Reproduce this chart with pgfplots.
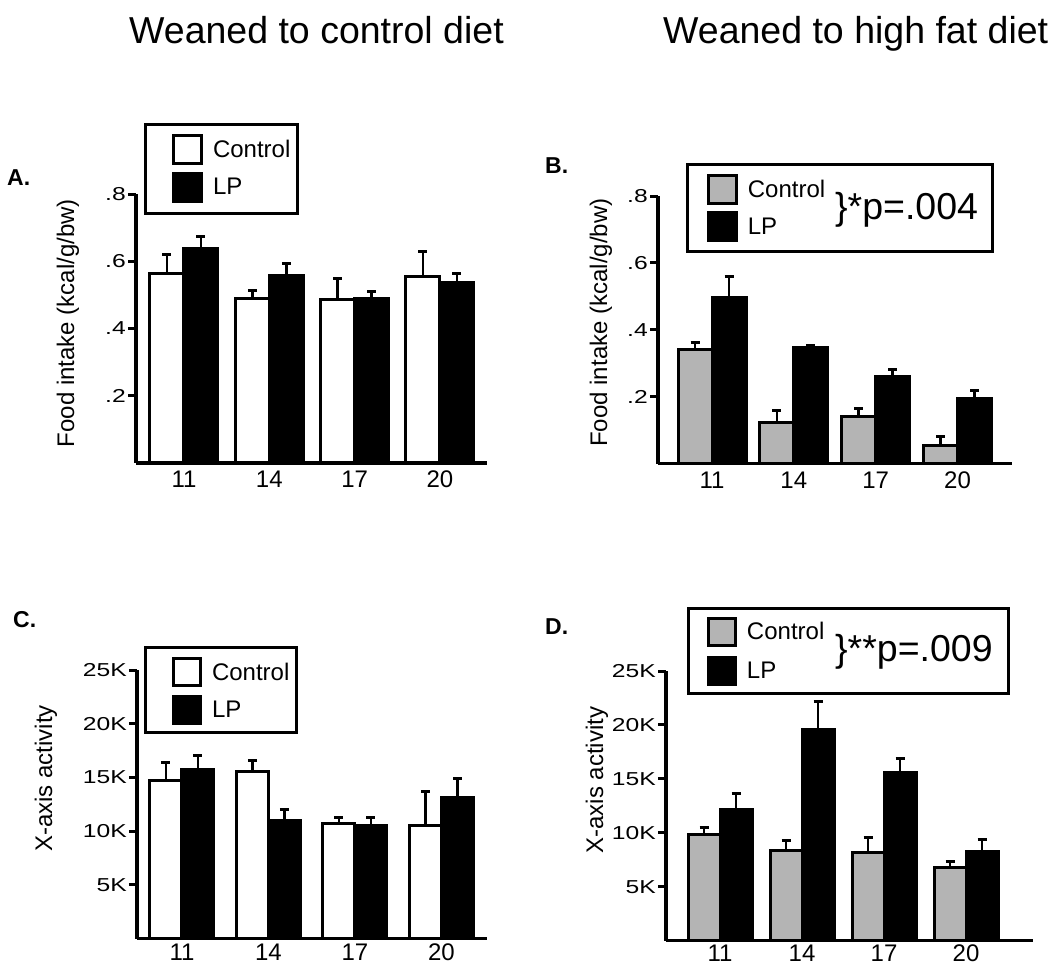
\documentclass[border=0pt]{standalone}
\usepackage{pgfplots}
\pgfplotsset{compat=1.18}
\usepackage{fontspec}
\setmainfont{Liberation Sans}
\newcommand\fs[1]{\fontsize{#1}{#1}\selectfont}
\definecolor{ctrlgray}{RGB}{180,180,180}

\pgfplotsset{
  panel/.style={
    scale only axis,
    axis lines*=left,
    axis line style={line width=3.5pt},
    enlarge x limits=false,
    ymin=0,
    xtick={0,1,2,3}, xticklabels={11,14,17,20},
    xtick style={draw=none},
    ytick style={line width=3pt, black},
    tick align=outside,
    major tick length=8pt,
    xticklabel style={font=\fs{24}, inner sep=0pt},
    yticklabel style={font=\fs{22}, inner sep=0pt, xshift=-2pt, xscale=1.12, yscale=0.85},
    ylabel style={font=\fs{24}, anchor=center},
    scaled y ticks=false,
    ybar=0pt,
    clip=false,
    legend cell align=left,
    legend style={draw=none, fill=none, inner sep=0pt, outer sep=0pt,
      font=\fs{24}, nodes={inner sep=0pt}, anchor=north west,
      /tikz/every odd column/.append style={column sep=10pt}},
    error bars/y dir=plus, error bars/y explicit,
    error bars/error bar style={line width=2.5pt, black},
    error bars/error mark options={rotate=90, line width=3pt, mark size=4.5pt, black},
  },
  ctrlW/.style={draw=black, fill=white, line width=3pt,
    legend image code/.code={\draw[fill=white, line width=3pt] (0pt,-14pt) rectangle (28pt,14pt);}},
  ctrlG/.style={draw=black, fill=ctrlgray, line width=3pt,
    legend image code/.code={\draw[fill=ctrlgray, line width=3pt] (0pt,-14pt) rectangle (28pt,14pt);}},
  lpB/.style={draw=black, fill=black, line width=3pt,
    legend image code/.code={\draw[fill=black, line width=3pt] (0pt,-14pt) rectangle (28pt,14pt);}},
}

\begin{document}
\begin{tikzpicture}
\useasboundingbox (0pt,0pt) rectangle (1050pt,-965pt);

\node[anchor=base west, font=\fs{37.5}, inner sep=0pt] at (129pt,-44pt) {Weaned to control diet};
\node[anchor=base west, font=\fs{37.5}, inner sep=0pt] at (663pt,-44pt) {Weaned to high fat diet};

\node[anchor=base west, font=\bfseries\fs{23}, inner sep=0pt] at (7pt,-186pt) {A.};
\node[anchor=base west, font=\bfseries\fs{23}, inner sep=0pt] at (545pt,-174pt) {B.};
\node[anchor=base west, font=\bfseries\fs{23}, inner sep=0pt] at (13pt,-627pt) {C.};
\node[anchor=base west, font=\bfseries\fs{23}, inner sep=0pt] at (545pt,-634pt) {D.};

% Panel A
\begin{axis}[panel,
  at={(136pt,-463pt)}, anchor=south west,
  width=351pt, height=269pt,
  xmin=-0.5625, xmax=3.551, ymax=0.8,
  ytick={0.2,0.4,0.6,0.8}, yticklabels={.2,.4,.6,.8},
  bar width=34pt,
  ylabel={Food intake (kcal/g/bw)},
  ylabel style={at={(axis description cs:-0.194,0.52)}},
  legend style={at={(axis description cs:0.1026,1.223)}, row sep=6.5pt},
]
\addplot[ctrlW] table[x=x, y=y, y error=e] {
x y e
0 0.565 0.055
1 0.488 0.024
2 0.486 0.064
3 0.555 0.075
};
\addplot[lpB] table[x=x, y=y, y error=e] {
x y e
0 0.639 0.035
1 0.557 0.035
2 0.489 0.022
3 0.537 0.028
};
\legend{Control, LP}
\draw[line width=3pt] (axis description cs:0.026,1.257) rectangle (axis description cs:0.459,0.929);
\end{axis}

% Panel B
\begin{axis}[panel,
  at={(658pt,-463.7pt)}, anchor=south west,
  width=354pt, height=267.7pt,
  xmin=-0.66, xmax=3.666, ymax=0.8,
  ytick={0.2,0.4,0.6,0.8}, yticklabels={.2,.4,.6,.8},
  bar width=34pt,
  ylabel={Food intake (kcal/g/bw)},
  ylabel style={at={(axis description cs:-0.161,0.527)}},
  legend style={at={(axis description cs:0.138,1.0814)}, row sep=6pt},
]
\addplot[ctrlG] table[x=x, y=y, y error=e] {
x y e
0 0.342 0.019
1 0.123 0.037
2 0.140 0.025
3 0.055 0.026
};
\addplot[lpB] table[x=x, y=y, y error=e] {
x y e
0 0.497 0.061
1 0.348 0.006
2 0.261 0.021
3 0.194 0.026
};
\legend{Control, LP}
\draw[line width=3pt] (axis description cs:0.0847,1.1195) rectangle (axis description cs:0.946,0.791);
\node[anchor=west, font=\fs{37.5}, inner sep=0pt] at (axis description cs:0.5,0.948) {\}*p=.004};
\end{axis}

% Panel C
\begin{axis}[panel,
  at={(137pt,-938.7pt)}, anchor=south west,
  width=350pt, height=268.7pt,
  xmin=-0.52, xmax=3.526, ymax=25000,
  ytick={5000,10000,15000,20000,25000}, yticklabels={5K,10K,15K,20K,25K},
  bar width=32pt,
  xticklabel style={yshift=3pt},
  ylabel={X-axis activity},
  ylabel style={at={(axis description cs:-0.26,0.596)}},
  legend style={at={(axis description cs:0.1,1.048)}, row sep=8pt},
]
\addplot[ctrlW, legend image code/.code={\draw[fill=white, line width=3pt] (0pt,-13.5pt) rectangle (27pt,13.5pt);}] table[x=x, y=y, y error=e] {
x y e
0 14760 1610
1 15535 1025
2 10730 525
3 10570 3105
};
\addplot[lpB, legend image code/.code={\draw[fill=black, line width=3pt] (0pt,-13.5pt) rectangle (27pt,13.5pt);}] table[x=x, y=y, y error=e] {
x y e
0 15780 1240
1 11040 1020
2 10540 750
3 13150 1730
};
\legend{Control, LP}
\draw[line width=3pt] (axis description cs:0.0229,1.0856) rectangle (axis description cs:0.457,0.769);
\end{axis}

% Panel D
\begin{axis}[panel,
  at={(666pt,-940.7pt)}, anchor=south west,
  width=367pt, height=269.7pt,
  xmin=-0.659, xmax=3.817, ymax=25000,
  ytick={5000,10000,15000,20000,25000}, yticklabels={5K,10K,15K,20K,25K},
  bar width=32pt,
  xticklabel style={yshift=4pt},
  ylabel={X-axis activity},
  ylabel style={at={(axis description cs:-0.188,0.595)}},
  legend style={at={(axis description cs:0.1117,1.2002)}, row sep=8.5pt},
]
\addplot[ctrlG, legend image code/.code={\draw[fill=ctrlgray, line width=3pt] (0pt,-13.5pt) rectangle (27pt,13.5pt);}] table[x=x, y=y, y error=e] {
x y e
0 9877 586
1 8395 864
2 8148 1420
3 6759 556
};
\addplot[lpB, legend image code/.code={\draw[fill=black, line width=3pt] (0pt,-13.5pt) rectangle (27pt,13.5pt);}] table[x=x, y=y, y error=e] {
x y e
0 12191 1451
1 19568 2562
2 15556 1327
3 8302 1081
};
\legend{Control, LP}
\draw[line width=3pt] (axis description cs:0.06,1.2336) rectangle (axis description cs:0.932,0.918);
\node[anchor=west, font=\fs{37.5}, inner sep=0pt] at (axis description cs:0.4605,1.0705) {\}**p=.009};
\end{axis}
\end{tikzpicture}
\end{document}
